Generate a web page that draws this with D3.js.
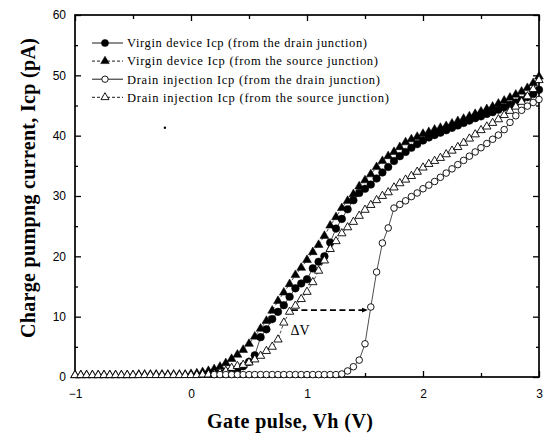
<!DOCTYPE html>
<html>
<head>
<meta charset="utf-8">
<script src="https://cdn.jsdelivr.net/npm/d3@7"></script>
<style>
  html, body { margin: 0; padding: 0; background: #fff; }
  svg { display: block; }
</style>
</head>
<body>
<svg id="chart" width="546" height="436"></svg>
<script>
// ---------- DATA ----------
const gateV = [
  -1.00,-0.95,-0.90,-0.85,-0.80,-0.75,-0.70,-0.65,-0.60,-0.55,
  -0.50,-0.45,-0.40,-0.35,-0.30,-0.25,-0.20,-0.15,-0.10,-0.05,
   0.00, 0.05, 0.10, 0.15, 0.20, 0.25, 0.30, 0.35, 0.40, 0.45,
   0.50, 0.55, 0.60, 0.65, 0.70, 0.75, 0.80, 0.85, 0.90, 0.95,
   1.00, 1.05, 1.10, 1.15, 1.20, 1.25, 1.30, 1.35, 1.40, 1.45,
   1.50, 1.55, 1.60, 1.65, 1.70, 1.75, 1.80, 1.85, 1.90, 1.95,
   2.00, 2.05, 2.10, 2.15, 2.20, 2.25, 2.30, 2.35, 2.40, 2.45,
   2.50, 2.55, 2.60, 2.65, 2.70, 2.75, 2.80, 2.85, 2.90, 2.95,
   3.00
];

// Virgin device Icp (from the drain junction) - filled circles
const virginDrain = [
  null,null,null,null,null,null,null,null,null,null,
  null,null,null,null,null,null,null,null,null,null,
  null,null,null,null, 0.5, 0.6, 0.8, 1.0, 1.3, 1.8,
   2.5, 3.6, 6.6, 7.9, 9.6,10.8,11.9,13.3,14.7,15.5,
  16.2,18.0,19.1,20.0,22.3,24.6,26.2,27.8,29.3,30.5,
  31.2,31.9,32.9,33.9,34.8,35.8,36.6,37.3,38.0,38.6,
  39.2,39.7,40.1,40.5,40.9,41.3,41.7,42.1,42.5,42.9,
  43.2,43.6,43.9,44.3,44.7,45.1,45.5,45.9,46.4,46.9,
  47.6
];

// Virgin device Icp (from the source junction) - filled triangles
const virginSource = [
   0.3, 0.3, 0.3, 0.3, 0.3, 0.3, 0.3, 0.3, 0.3, 0.3,
   0.3, 0.4, 0.4, 0.4, 0.4, 0.4, 0.4, 0.4, 0.4, 0.4,
   0.5, 0.6, 0.8, 1.0, 1.3, 1.7, 2.3, 3.0, 3.7, 4.5,
   5.5, 6.7, 8.0, 9.3,11.0,12.6,14.0,15.4,16.9,18.1,
  19.4,20.7,21.9,23.4,25.1,26.5,28.0,29.2,30.3,31.6,
  32.6,33.6,34.8,35.8,36.6,37.3,38.1,38.9,39.4,39.8,
  40.3,40.6,41.0,41.3,41.6,42.0,42.4,42.8,43.2,43.6,
  44.0,44.4,44.8,45.3,45.8,46.3,46.8,47.3,47.9,48.7,
  49.8
];

// Drain injection Icp (from the drain junction) - open circles
const injDrain = [
  null,null,null,null,null,null,null,null,null,null,
  null,null,null,null,null,null,null,null,null,null,
  null,null,null,null, 0.4, 0.4, 0.4, 0.4, 0.4, 0.4,
   0.4, 0.4, 0.4, 0.4, 0.4, 0.4, 0.4, 0.4, 0.4, 0.4,
   0.4, 0.4, 0.4, 0.4, 0.4, 0.4, 0.5, 1.0, 1.7, 2.8,
   5.5,11.6,17.4,22.2,24.7,28.0,28.6,29.2,29.9,30.5,
  31.2,31.8,32.4,33.1,33.8,34.5,35.2,35.9,36.6,37.3,
  38.0,38.7,39.4,40.1,41.0,42.2,43.3,44.2,44.9,45.5,
  46.0
];

// Drain injection Icp (from the source junction) - open triangles
const injSource = [
   0.3, 0.3, 0.3, 0.3, 0.3, 0.3, 0.3, 0.3, 0.3, 0.3,
   0.3, 0.3, 0.3, 0.3, 0.3, 0.3, 0.3, 0.3, 0.3, 0.3,
   0.3, 0.3, 0.4, 0.4, 0.5, 0.7, 1.0, 1.5, 1.8, 2.0,
   2.4, 2.9, 3.5, 4.3, 5.0, 6.2, 9.0,10.8,11.8,12.9,
  14.1,15.7,17.6,19.3,21.2,22.5,23.8,24.8,25.7,26.7,
  27.7,28.5,29.3,30.0,30.6,31.4,32.1,32.7,33.3,34.0,
  34.7,35.3,35.8,36.3,36.9,37.5,38.1,38.8,39.5,40.2,
  40.9,41.5,42.1,42.7,43.4,44.1,44.8,45.6,46.5,47.7,
  49.2
];

const legendLabels = [
  "Virgin device Icp (from the drain junction)",
  "Virgin device Icp (from the source junction)",
  "Drain injection Icp (from the drain junction)",
  "Drain injection Icp (from the source junction)"
];

const xTicks = [-1, 0, 1, 2, 3];
const xMinorTicks = [-0.5, 0.5, 1.5, 2.5];
const yTicks = [0, 10, 20, 30, 40, 50, 60];
const yMinorTicks = [5, 15, 25, 35, 45, 55];

// Delta V annotation: from (v0, level) to (v1, level)
const deltaV = { v0: 0.87, v1: 1.52, level: 11.1, labelV: 0.94, labelI: 7.0, text: "\u0394V" };
const specks = [{ v: -0.225, i: 41.3 }];

// ---------- LAYOUT ----------
const W = 546, H = 436;
const margin = { left: 75, right: 7, top: 15, bottom: 59 };
const svg = d3.select("#chart");
const x = d3.scaleLinear().domain([-1, 3]).range([margin.left, W - margin.right]);
const y = d3.scaleLinear().domain([0, 60]).range([H - margin.bottom, margin.top]);

const tickFont = "'Liberation Sans', Arial, sans-serif";
const serif = "'Liberation Serif', 'Times New Roman', serif";

// ---------- AXES ----------
function styleAxis(g) {
  g.select(".domain").remove();
  g.selectAll(".tick line").attr("stroke", "#000").attr("stroke-width", 1.3);
  g.selectAll(".tick text").attr("fill", "#000")
    .style("font-family", tickFont).style("font-size", "12px");
}

const yb = H - margin.bottom, yt = margin.top, xl = margin.left, xr = W - margin.right;

svg.append("g").attr("transform", `translate(0,${yb})`)
  .call(d3.axisBottom(x).tickValues(xTicks).tickSize(-6).tickPadding(12).tickFormat(d3.format("d")))
  .call(styleAxis);
svg.append("g").attr("transform", `translate(0,${yb})`)
  .call(d3.axisBottom(x).tickValues(xMinorTicks).tickSize(-4).tickFormat(""))
  .call(styleAxis);
svg.append("g").attr("transform", `translate(0,${yt})`)
  .call(d3.axisTop(x).tickValues(xTicks).tickSize(-6).tickFormat(""))
  .call(styleAxis);
svg.append("g").attr("transform", `translate(0,${yt})`)
  .call(d3.axisTop(x).tickValues(xMinorTicks).tickSize(-4).tickFormat(""))
  .call(styleAxis);

svg.append("g").attr("transform", `translate(${xl},0)`)
  .call(d3.axisLeft(y).tickValues(yTicks).tickSize(-6).tickPadding(9))
  .call(styleAxis);
svg.append("g").attr("transform", `translate(${xl},0)`)
  .call(d3.axisLeft(y).tickValues(yMinorTicks).tickSize(-3).tickFormat(""))
  .call(styleAxis);
svg.append("g").attr("transform", `translate(${xr},0)`)
  .call(d3.axisRight(y).tickValues(yTicks).tickSize(-6).tickFormat(""))
  .call(styleAxis);
svg.append("g").attr("transform", `translate(${xr},0)`)
  .call(d3.axisRight(y).tickValues(yMinorTicks).tickSize(-3).tickFormat(""))
  .call(styleAxis);

// frame
svg.append("rect")
  .attr("x", xl).attr("y", yt).attr("width", xr - xl).attr("height", yb - yt)
  .attr("fill", "none").attr("stroke", "#000").attr("stroke-width", 1.7);

// ---------- SERIES ----------
const series = [
  { name: legendLabels[1], values: virginSource, shape: d3.symbolTriangle, size: 34, fill: "#000", dash: "3,2" },
  { name: legendLabels[0], values: virginDrain,  shape: d3.symbolCircle,   size: 46, fill: "#000", dash: null },
  { name: legendLabels[3], values: injSource,    shape: d3.symbolTriangle, size: 30, fill: "#fff", dash: "3,2" },
  { name: legendLabels[2], values: injDrain,     shape: d3.symbolCircle,   size: 34, fill: "#fff", dash: null }
];

const line = d3.line()
  .defined(d => d.i !== null)
  .x(d => x(d.v)).y(d => y(d.i));

series.forEach(s => {
  const pts = gateV.map((v, k) => ({ v, i: s.values[k] }));
  svg.append("path").datum(pts)
    .attr("d", line)
    .attr("fill", "none").attr("stroke", "#000").attr("stroke-width", 0.7)
    .attr("stroke-dasharray", s.dash);
  svg.append("g").selectAll("path")
    .data(pts.filter(d => d.i !== null))
    .join("path")
    .attr("transform", d => `translate(${x(d.v)},${y(d.i)})`)
    .attr("d", d3.symbol().type(s.shape).size(s.size))
    .attr("fill", s.fill).attr("stroke", "#000").attr("stroke-width", s.fill === "#fff" ? 0.9 : 0.5);
});

// ---------- ANNOTATION ----------
svg.append("defs").append("marker")
  .attr("id", "arrow").attr("viewBox", "0 0 10 10").attr("refX", 9).attr("refY", 5)
  .attr("markerWidth", 3.5).attr("markerHeight", 3.5).attr("orient", "auto")
  .append("path").attr("d", "M0,1 L10,5 L0,9 Z").attr("fill", "#000");

svg.append("line")
  .attr("x1", x(deltaV.v0)).attr("x2", x(deltaV.v1))
  .attr("y1", y(deltaV.level)).attr("y2", y(deltaV.level))
  .attr("stroke", "#000").attr("stroke-width", 1.8)
  .attr("stroke-dasharray", "6,3.5")
  .attr("marker-end", "url(#arrow)");

svg.append("text")
  .attr("x", x(deltaV.labelV)).attr("y", y(deltaV.labelI))
  .attr("text-anchor", "middle")
  .style("font-family", serif).style("font-size", "14px")
  .text(deltaV.text);

svg.selectAll(".speck").data(specks).join("circle")
  .attr("cx", d => x(d.v)).attr("cy", d => y(d.i)).attr("r", 1.2).attr("fill", "#000");

// ---------- LEGEND ----------
const legendOrder = [
  { label: legendLabels[0], shape: d3.symbolCircle, size: 40, fill: "#000", dash: null, width: 240 },
  { label: legendLabels[1], shape: d3.symbolTriangle, size: 32, fill: "#000", dash: "3,2", width: 251 },
  { label: legendLabels[2], shape: d3.symbolCircle, size: 32, fill: "#fff", dash: null, width: 253 },
  { label: legendLabels[3], shape: d3.symbolTriangle, size: 28, fill: "#fff", dash: "3,2", width: 262 }
];
const lg = svg.append("g");
legendOrder.forEach((d, k) => {
  const cy = 43 + k * 18.1;
  lg.append("line").attr("x1", 92).attr("x2", 123).attr("y1", cy).attr("y2", cy)
    .attr("stroke", "#000").attr("stroke-width", 0.9).attr("stroke-dasharray", d.dash);
  lg.append("path").attr("transform", `translate(105,${cy})`)
    .attr("d", d3.symbol().type(d.shape).size(d.size))
    .attr("fill", d.fill).attr("stroke", "#000").attr("stroke-width", d.fill === "#fff" ? 0.9 : 0.5);
  lg.append("text").attr("x", 127).attr("y", cy + 4.3)
    .attr("textLength", d.width).attr("lengthAdjust", "spacing")
    .style("font-family", serif).style("font-size", "12.5px")
    .text(d.label);
});

// ---------- AXIS TITLES ----------
svg.append("text")
  .attr("x", 290).attr("y", 428)
  .attr("text-anchor", "middle")
  .attr("textLength", 166).attr("lengthAdjust", "spacing")
  .style("font-family", serif).style("font-size", "20px").style("font-weight", "bold")
  .text("Gate pulse, Vh (V)");

svg.append("text")
  .attr("transform", "translate(35,188) rotate(-90)")
  .attr("text-anchor", "middle")
  .attr("textLength", 300).attr("lengthAdjust", "spacing")
  .style("font-family", serif).style("font-size", "20px").style("font-weight", "bold")
  .text("Charge pumpng current, Icp (pA)");
</script>
</body>
</html>
